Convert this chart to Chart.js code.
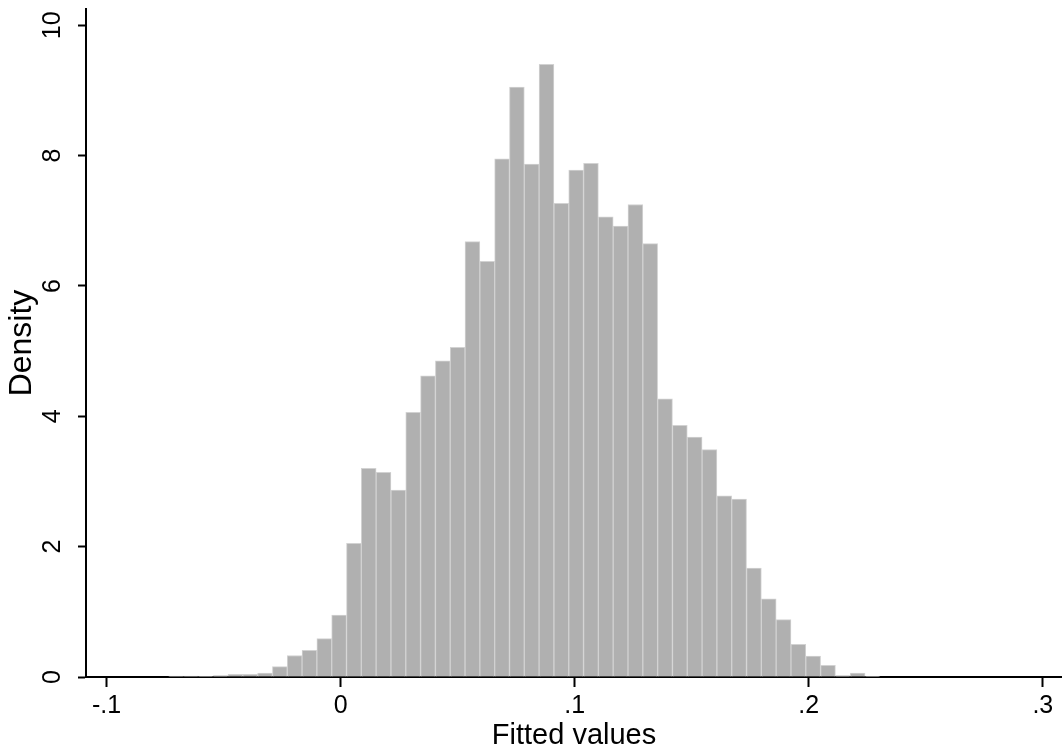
<!DOCTYPE html>
<html lang="en">
<head>
    <meta charset="UTF-8">
    <title>Fitted values - density</title>
    <style>
        body, html {
            margin: 0;
            padding: 0;
            background: #fff;
            overflow: hidden;
        }
    </style>
</head>
<body>

<canvas id="histChart" width="1062" height="753"></canvas>

<script src="https://cdn.jsdelivr.net/npm/chart.js"></script>
<script>
    // bin centres (fitted value) and bar heights (density)
    const binCenters = [
        -0.070295, -0.063965, -0.057635, -0.051305, -0.044975, -0.038645,
        -0.032315, -0.025985, -0.019655, -0.013325, -0.006995, -0.000665,
         0.005665,  0.011995,  0.018325,  0.024655,  0.030985,  0.037315,
         0.043645,  0.049975,  0.056305,  0.062635,  0.068965,  0.075295,
         0.081625,  0.087955,  0.094285,  0.100615,  0.106945,  0.113275,
         0.119605,  0.125935,  0.132265,  0.138595,  0.144925,  0.151255,
         0.157585,  0.163915,  0.170245,  0.176575,  0.182905,  0.189235,
         0.195565,  0.201895,  0.208225,  0.214555,  0.220885,  0.227215
    ];
    const density = [
        0.015, 0.015, 0.01, 0.02, 0.04, 0.04,
        0.06, 0.16, 0.33, 0.41, 0.59, 0.95,
        2.05, 3.2, 3.14, 2.87, 4.06, 4.62,
        4.85, 5.06, 6.68, 6.38, 7.95, 9.05,
        7.87, 9.4, 7.27, 7.78, 7.88, 7.06,
        6.92, 7.25, 6.65, 4.27, 3.86, 3.68,
        3.49, 2.78, 2.73, 1.67, 1.2, 0.88,
        0.5, 0.32, 0.18, 0.02, 0.06, 0.01
    ];

    const xTickValues = [-0.1, 0, 0.1, 0.2, 0.3];
    const xTickLabels = ['-.1', '0', '.1', '.2', '.3'];
    const yTickValues = [0, 2, 4, 6, 8, 10];
    const yTickLabels = ['0', '2', '4', '6', '8', '10'];

    const fontFamily = '"Liberation Sans", Arial, Helvetica, sans-serif';
    Chart.defaults.font.family = fontFamily;
    Chart.defaults.color = '#000';

    const ctx = document.getElementById('histChart').getContext('2d');
    const histChart = new Chart(ctx, {
        type: 'bar',
        data: {
            datasets: [{
                label: 'Density',
                data: binCenters.map((x, i) => ({ x: x, y: density[i] })),
                backgroundColor: '#b0b0b0',
                borderColor: '#d2d2d2',
                borderWidth: 1,
                barPercentage: 1,
                categoryPercentage: 1
            }]
        },
        options: {
            responsive: false,
            animation: false,
            layout: { padding: { top: 9, right: 0, bottom: 0, left: 0 } },
            plugins: {
                legend: { display: false },
                tooltip: { enabled: false }
            },
            scales: {
                x: {
                    type: 'linear',
                    min: -0.1088,
                    max: 0.3082,
                    offset: false,
                    afterBuildTicks: scale => {
                        scale.ticks = xTickValues.map(v => ({ value: v }));
                    },
                    afterFit: scale => {
                        scale.height = 76;
                        scale.paddingLeft = 0;
                        scale.paddingRight = 0;
                    },
                    ticks: {
                        callback: value => xTickLabels[xTickValues.indexOf(value)],
                        font: { size: 25 },
                        color: '#000',
                        padding: 4,
                        maxRotation: 0,
                        autoSkip: false
                    },
                    grid: {
                        offset: false,
                        drawOnChartArea: false,
                        drawTicks: true,
                        tickLength: 10,
                        tickWidth: 2,
                        color: '#000'
                    },
                    border: { display: true, color: '#000', width: 2 },
                    title: {
                        display: true,
                        text: 'Fitted values',
                        font: { size: 29 },
                        color: '#000',
                        padding: { top: 0, bottom: 0 }
                    }
                },
                y: {
                    min: 0,
                    max: 10.25,
                    afterBuildTicks: scale => {
                        scale.ticks = yTickValues.map(v => ({ value: v }));
                    },
                    afterFit: scale => {
                        scale.width = 86;
                        scale.paddingTop = 0;
                        scale.paddingBottom = 0;
                    },
                    ticks: {
                        callback: value => yTickLabels[yTickValues.indexOf(value)],
                        font: { size: 25 },
                        color: '#000',
                        minRotation: 90,
                        maxRotation: 90,
                        crossAlign: 'center',
                        padding: 11
                    },
                    grid: {
                        drawOnChartArea: false,
                        drawTicks: true,
                        tickLength: 8,
                        tickWidth: 2,
                        color: '#000'
                    },
                    border: { display: true, color: '#000', width: 2 },
                    title: {
                        display: true,
                        text: 'Density',
                        font: { size: 32 },
                        color: '#000',
                        padding: { top: 3, bottom: 0 }
                    }
                }
            }
        }
    });
</script>

</body>
</html>
